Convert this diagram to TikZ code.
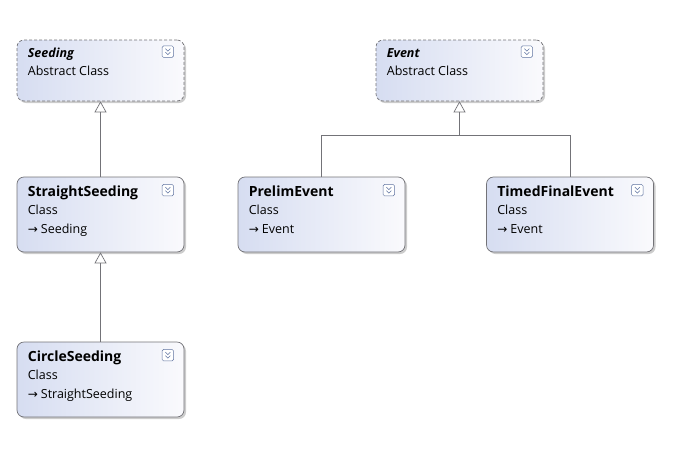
\documentclass[tikz,border=0pt]{standalone}
\usepackage{fontspec}
\setmainfont{Open Sans}
\newfontfamily\symfont{DejaVu Sans}
\usetikzlibrary{arrows.meta,shadows}

\definecolor{boxleft}{RGB}{214,221,241}
\definecolor{boxright}{RGB}{250,250,253}
\definecolor{boxline}{RGB}{115,115,120}
\definecolor{iconline}{RGB}{95,115,160}

\tikzset{
  classbox/.style={draw=boxline, line width=0.7pt, rounded corners=7pt, left color=boxleft, right color=boxright,
    minimum width=167pt, minimum height=75pt, inner sep=0pt,
    drop shadow={shadow xshift=2pt, shadow yshift=-2pt, opacity=0.4}},
  abstractbox/.style={classbox, minimum height=61pt, densely dashed},
  titletext/.style={anchor=base west, inner sep=0pt, font=\fontsize{14}{16}\selectfont\bfseries},
  subtext/.style={anchor=base west, inner sep=0pt, font=\fontsize{12.5}{14}\selectfont},
  iconbox/.style={draw=iconline, rounded corners=1.5pt, fill=white, minimum size=11.5pt, inner sep=0pt},
  inherit/.style={draw=boxline, line width=0.7pt, -{Triangle[open, width=12pt, length=11pt]}}
}

% collapse icon in the top right corner of a class shape
\newcommand{\umlicon}[2]{%
  \node[iconbox] (#1-icon) at ([xshift=-16.5pt, yshift=-#2pt]#1.north east) {};
  \draw[iconline, line width=0.6pt] ([xshift=-2.5pt, yshift=3pt]#1-icon.center) -- ([yshift=0.5pt]#1-icon.center) -- ([xshift=2.5pt, yshift=3pt]#1-icon.center);
  \draw[iconline, line width=0.6pt] ([xshift=-2.5pt, yshift=-0.5pt]#1-icon.center) -- ([yshift=-3pt]#1-icon.center) -- ([xshift=2.5pt, yshift=-0.5pt]#1-icon.center);
}

\begin{document}
\begin{tikzpicture}[x=1pt, y=-1pt]
  \useasboundingbox (0,0) rectangle (695,450);

  % abstract classes
  \node[abstractbox] (seeding) at (100.5,70.5) {};
  \node[titletext, font=\fontsize{12.5}{14}\selectfont\bfseries\itshape] (seeding-name) at ([xshift=11pt, yshift=-18pt]seeding.north west) {Seeding};
  \node[subtext] (seeding-kind) at ([xshift=11pt, yshift=-36pt]seeding.north west) {Abstract Class};
  \umlicon{seeding}{12}

  \node[abstractbox] (event) at (459.5,70.5) {};
  \node[titletext, font=\fontsize{12.5}{14}\selectfont\bfseries\itshape] (event-name) at ([xshift=11pt, yshift=-18pt]event.north west) {Event};
  \node[subtext] (event-kind) at ([xshift=11pt, yshift=-36pt]event.north west) {Abstract Class};
  \umlicon{event}{12}

  % concrete classes
  \foreach \id/\x/\y/\name/\parent in {straight/100.5/214.5/StraightSeeding/Seeding,
      prelim/321.5/214.5/PrelimEvent/Event,
      timed/570/214.5/TimedFinalEvent/Event,
      circle/100.5/379.5/CircleSeeding/StraightSeeding}
  {
    \node[classbox] (\id) at (\x,\y) {};
    \node[titletext] (\id-name) at ([xshift=11pt, yshift=-20pt]\id.north west) {\name};
    \node[subtext] (\id-kind) at ([xshift=11pt, yshift=-37.5pt]\id.north west) {Class};
    \node[subtext] (\id-parent) at ([xshift=11pt, yshift=-57pt]\id.north west) {{\symfont\fontsize{12}{14}\selectfont →}\hspace{3pt}\parent};
    \umlicon{\id}{13.5}
  }

  % inheritance
  \coordinate (event-join) at ([yshift=-34pt]event.south);
  \draw[inherit] (straight.north) -- (seeding.south);
  \draw[inherit] (circle.north) -- (straight.south);
  \draw[inherit] (prelim.north) |- (event-join) -- (event.south);
  \draw[draw=boxline, line width=0.7pt] (timed.north) |- (event-join);
\end{tikzpicture}
\end{document}
